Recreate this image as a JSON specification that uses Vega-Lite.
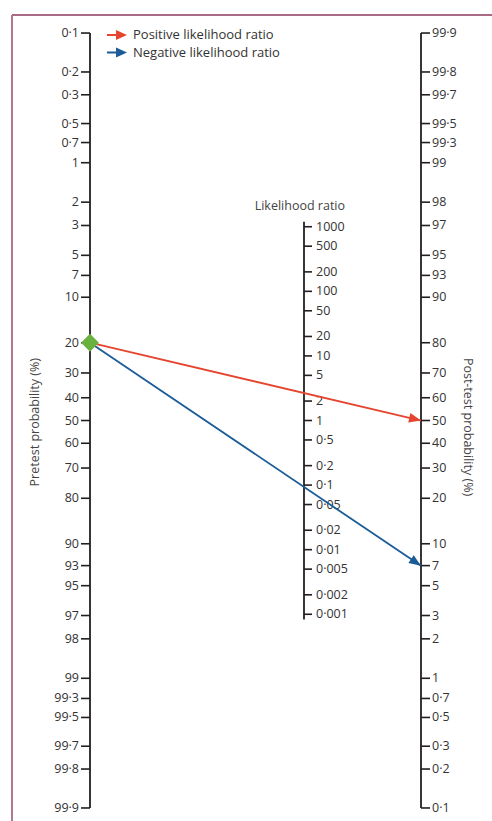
{
  "$schema": "https://vega.github.io/schema/vega-lite/v6.json",
  "autosize": "none",
  "width": 480,
  "height": 806,
  "padding": {"left": 12, "top": 15, "right": 0, "bottom": 0},
  "background": "white",
  "config": {"view": {"stroke": null}},
  "datasets": {
    "pretest": [
      {"label": "0·1", "pct": 0.1, "logodds": -6.9068},
      {"label": "0·2", "pct": 0.2, "logodds": -6.2126},
      {"label": "0·3", "pct": 0.3, "logodds": -5.8061},
      {"label": "0·5", "pct": 0.5, "logodds": -5.2933},
      {"label": "0·7", "pct": 0.7, "logodds": -4.9548},
      {"label": "1", "pct": 1, "logodds": -4.5951},
      {"label": "2", "pct": 2, "logodds": -3.8918},
      {"label": "3", "pct": 3, "logodds": -3.4761},
      {"label": "5", "pct": 5, "logodds": -2.9444},
      {"label": "7", "pct": 7, "logodds": -2.5867},
      {"label": "10", "pct": 10, "logodds": -2.1972},
      {"label": "20", "pct": 20, "logodds": -1.3863},
      {"label": "30", "pct": 30, "logodds": -0.8473},
      {"label": "40", "pct": 40, "logodds": -0.4055},
      {"label": "50", "pct": 50, "logodds": 0},
      {"label": "60", "pct": 60, "logodds": 0.4055},
      {"label": "70", "pct": 70, "logodds": 0.8473},
      {"label": "80", "pct": 80, "logodds": 1.3863},
      {"label": "90", "pct": 90, "logodds": 2.1972},
      {"label": "93", "pct": 93, "logodds": 2.5867},
      {"label": "95", "pct": 95, "logodds": 2.9444},
      {"label": "97", "pct": 97, "logodds": 3.4761},
      {"label": "98", "pct": 98, "logodds": 3.8918},
      {"label": "99", "pct": 99, "logodds": 4.5951},
      {"label": "99·3", "pct": 99.3, "logodds": 4.9548},
      {"label": "99·5", "pct": 99.5, "logodds": 5.2933},
      {"label": "99·7", "pct": 99.7, "logodds": 5.8061},
      {"label": "99·8", "pct": 99.8, "logodds": 6.2126},
      {"label": "99·9", "pct": 99.9, "logodds": 6.9068}
    ],
    "posttest": [
      {"label": "99·9", "pct": 99.9, "logodds": 6.9068},
      {"label": "99·8", "pct": 99.8, "logodds": 6.2126},
      {"label": "99·7", "pct": 99.7, "logodds": 5.8061},
      {"label": "99·5", "pct": 99.5, "logodds": 5.2933},
      {"label": "99·3", "pct": 99.3, "logodds": 4.9548},
      {"label": "99", "pct": 99, "logodds": 4.5951},
      {"label": "98", "pct": 98, "logodds": 3.8918},
      {"label": "97", "pct": 97, "logodds": 3.4761},
      {"label": "95", "pct": 95, "logodds": 2.9444},
      {"label": "93", "pct": 93, "logodds": 2.5867},
      {"label": "90", "pct": 90, "logodds": 2.1972},
      {"label": "80", "pct": 80, "logodds": 1.3863},
      {"label": "70", "pct": 70, "logodds": 0.8473},
      {"label": "60", "pct": 60, "logodds": 0.4055},
      {"label": "50", "pct": 50, "logodds": 0},
      {"label": "40", "pct": 40, "logodds": -0.4055},
      {"label": "30", "pct": 30, "logodds": -0.8473},
      {"label": "20", "pct": 20, "logodds": -1.3863},
      {"label": "10", "pct": 10, "logodds": -2.1972},
      {"label": "7", "pct": 7, "logodds": -2.5867},
      {"label": "5", "pct": 5, "logodds": -2.9444},
      {"label": "3", "pct": 3, "logodds": -3.4761},
      {"label": "2", "pct": 2, "logodds": -3.8918},
      {"label": "1", "pct": 1, "logodds": -4.5951},
      {"label": "0·7", "pct": 0.7, "logodds": -4.9548},
      {"label": "0·5", "pct": 0.5, "logodds": -5.2933},
      {"label": "0·3", "pct": 0.3, "logodds": -5.8061},
      {"label": "0·2", "pct": 0.2, "logodds": -6.2126},
      {"label": "0·1", "pct": 0.1, "logodds": -6.9068}
    ],
    "likelihood": [
      {"label": "1000", "lr": 1000},
      {"label": "500", "lr": 500},
      {"label": "200", "lr": 200},
      {"label": "100", "lr": 100},
      {"label": "50", "lr": 50},
      {"label": "20", "lr": 20},
      {"label": "10", "lr": 10},
      {"label": "5", "lr": 5},
      {"label": "2", "lr": 2},
      {"label": "1", "lr": 1},
      {"label": "0·5", "lr": 0.5},
      {"label": "0·2", "lr": 0.2},
      {"label": "0·1", "lr": 0.1},
      {"label": "0·05", "lr": 0.05},
      {"label": "0·02", "lr": 0.02},
      {"label": "0·01", "lr": 0.01},
      {"label": "0·005", "lr": 0.005},
      {"label": "0·002", "lr": 0.002},
      {"label": "0·001", "lr": 0.001}
    ],
    "tests": [
      {"test": "Positive likelihood ratio", "pretest_pct": 20, "lr": 4, "posttest_pct": 50, "pre_logodds": -1.3863, "post_logodds": 0, "post_logodds_reversed": 0},
      {"test": "Negative likelihood ratio", "pretest_pct": 20, "lr": 0.3, "posttest_pct": 6.98, "pre_logodds": -1.3863, "post_logodds": -2.5903, "post_logodds_reversed": 2.5903}
    ]
  },
  "layer": [
    {
      "data": {"name": "likelihood"},
      "layer": [
        {
          "mark": {"type": "rule", "color": "#231f20", "strokeWidth": 1.8},
          "encoding": {
            "x": {"datum": 0.6465, "type": "quantitative", "scale": {"domain": [-0.23565, 1.2145], "nice": false, "zero": false}, "axis": null},
            "y": {"datum": 1200, "type": "quantitative", "scale": {"type": "log", "domain": [6.297e-7, 1898200], "nice": false}, "axis": null},
            "y2": {"datum": 0.00083}
          },
          "transform": [{"filter": "datum.lr === 1"}]
        },
        {
          "mark": {"type": "rule", "color": "#231f20", "strokeWidth": 1.6},
          "encoding": {
            "x": {"datum": 0.6465, "type": "quantitative", "scale": {"domain": [-0.23565, 1.2145], "nice": false, "zero": false}, "axis": null},
            "x2": {"datum": 0.6707},
            "y": {"field": "lr", "type": "quantitative", "scale": {"type": "log", "domain": [6.297e-7, 1898200], "nice": false}, "axis": null}
          }
        },
        {
          "mark": {"type": "text", "align": "left", "baseline": "middle", "dx": 12, "font": "Open Sans", "fontSize": 12.5, "color": "#333333"},
          "encoding": {
            "x": {"datum": 0.6465, "type": "quantitative", "scale": {"domain": [-0.23565, 1.2145], "nice": false, "zero": false}, "axis": null},
            "y": {"field": "lr", "type": "quantitative", "scale": {"type": "log", "domain": [6.297e-7, 1898200], "nice": false}, "axis": null},
            "text": {"field": "label"}
          }
        },
        {
          "mark": {"type": "text", "align": "center", "baseline": "middle", "font": "Open Sans", "fontSize": 12.5, "color": "#444444", "text": "Likelihood ratio"},
          "encoding": {
            "x": {"datum": 0.634, "type": "quantitative", "scale": {"domain": [-0.23565, 1.2145], "nice": false, "zero": false}, "axis": null},
            "y": {"datum": 2100, "type": "quantitative", "scale": {"type": "log", "domain": [6.297e-7, 1898200], "nice": false}, "axis": null}
          },
          "transform": [{"filter": "datum.lr === 1"}]
        }
      ]
    },
    {
      "data": {"name": "posttest"},
      "layer": [
        {
          "mark": {"type": "rule", "color": "#231f20", "strokeWidth": 1.8},
          "encoding": {
            "x": {"datum": 1, "type": "quantitative", "scale": {"domain": [-0.23565, 1.2145], "nice": false, "zero": false}, "axis": null},
            "y": {"aggregate": "min", "field": "logodds", "type": "quantitative", "scale": {"domain": [-7.139, 7.2282], "nice": false, "zero": false}, "axis": null},
            "y2": {"aggregate": "max", "field": "logodds"}
          }
        },
        {
          "mark": {"type": "rule", "color": "#231f20", "strokeWidth": 1.6},
          "encoding": {
            "x": {"datum": 1, "type": "quantitative", "scale": {"domain": [-0.23565, 1.2145], "nice": false, "zero": false}, "axis": null},
            "x2": {"datum": 1.0272},
            "y": {"field": "logodds", "type": "quantitative", "scale": {"domain": [-7.139, 7.2282], "nice": false, "zero": false}, "axis": null}
          }
        },
        {
          "mark": {"type": "text", "align": "left", "baseline": "middle", "dx": 11, "font": "Open Sans", "fontSize": 12.5, "color": "#333333"},
          "encoding": {
            "x": {"datum": 1, "type": "quantitative", "scale": {"domain": [-0.23565, 1.2145], "nice": false, "zero": false}, "axis": null},
            "y": {"field": "logodds", "type": "quantitative", "scale": {"domain": [-7.139, 7.2282], "nice": false, "zero": false}, "axis": null},
            "text": {"field": "label"}
          }
        },
        {
          "data": {"name": "tests"},
          "mark": {"type": "point", "filled": true, "opacity": 1, "shape": "M0,0L-1,-0.4L-1,0.4Z", "size": 576},
          "encoding": {
            "x": {"datum": 1, "type": "quantitative", "scale": {"domain": [-0.23565, 1.2145], "nice": false, "zero": false}, "axis": null},
            "y": {"field": "post_logodds", "type": "quantitative", "scale": {"domain": [-7.139, 7.2282], "nice": false, "zero": false}, "axis": null},
            "angle": {"condition": {"test": "datum.test === 'Positive likelihood ratio'", "value": 13.22}, "value": 33.98},
            "color": {
              "field": "test", "type": "nominal",
              "scale": {"domain": ["Positive likelihood ratio", "Negative likelihood ratio"], "range": ["#e5452f", "#1b5b97"]},
              "legend": {
                "title": null, "orient": "none", "legendX": 98, "legendY": 13, "padding": 0,
                "symbolType": "M-1.43,-0.13L-0.14,-0.13L-0.14,-0.71L1.43,0L-0.14,0.71L-0.14,0.13L-1.43,0.13Z",
                "symbolSize": 196, "symbolOpacity": 1, "symbolStrokeWidth": 0,
                "labelOffset": 9, "rowPadding": 3.5,
                "labelFont": "Open Sans", "labelFontSize": 13, "labelColor": "#333333", "labelLimit": 300
              }
            }
          }
        }
      ]
    },
    {
      "data": {"name": "pretest"},
      "layer": [
        {
          "mark": {"type": "rule", "color": "#231f20", "strokeWidth": 1.8},
          "encoding": {
            "x": {"datum": 0, "type": "quantitative", "scale": {"domain": [-0.23565, 1.2145], "nice": false, "zero": false}, "axis": null},
            "y": {"aggregate": "min", "field": "logodds", "type": "quantitative", "scale": {"domain": [-7.2282, 7.139], "reverse": true, "nice": false, "zero": false}, "axis": null},
            "y2": {"aggregate": "max", "field": "logodds"}
          }
        },
        {
          "mark": {"type": "rule", "color": "#231f20", "strokeWidth": 1.6},
          "encoding": {
            "x": {"datum": -0.0272, "type": "quantitative", "scale": {"domain": [-0.23565, 1.2145], "nice": false, "zero": false}, "axis": null},
            "x2": {"datum": 0},
            "y": {"field": "logodds", "type": "quantitative", "scale": {"domain": [-7.2282, 7.139], "reverse": true, "nice": false, "zero": false}, "axis": null}
          }
        },
        {
          "mark": {"type": "text", "align": "right", "baseline": "middle", "dx": -11, "font": "Open Sans", "fontSize": 12.5, "color": "#333333"},
          "encoding": {
            "x": {"datum": 0, "type": "quantitative", "scale": {"domain": [-0.23565, 1.2145], "nice": false, "zero": false}, "axis": null},
            "y": {"field": "logodds", "type": "quantitative", "scale": {"domain": [-7.2282, 7.139], "reverse": true, "nice": false, "zero": false}, "axis": null},
            "text": {"field": "label"}
          }
        },
        {
          "mark": {"type": "text", "align": "center", "baseline": "middle", "angle": 270, "font": "Open Sans", "fontSize": 12.5, "color": "#444444", "text": "Pretest probability (%)"},
          "transform": [{"filter": "datum.pct === 50"}],
          "encoding": {
            "x": {"datum": -0.1662, "type": "quantitative", "scale": {"domain": [-0.23565, 1.2145], "nice": false, "zero": false}, "axis": null},
            "y": {"datum": 0.03, "type": "quantitative", "scale": {"domain": [-7.2282, 7.139], "reverse": true, "nice": false, "zero": false}, "axis": null}
          }
        },
        {
          "mark": {"type": "text", "align": "center", "baseline": "middle", "angle": 90, "font": "Open Sans", "fontSize": 12.5, "color": "#444444", "text": "Post-test probability (%)"},
          "transform": [{"filter": "datum.pct === 50"}],
          "encoding": {
            "x": {"datum": 1.142, "type": "quantitative", "scale": {"domain": [-0.23565, 1.2145], "nice": false, "zero": false}, "axis": null},
            "y": {"datum": 0.116, "type": "quantitative", "scale": {"domain": [-7.2282, 7.139], "reverse": true, "nice": false, "zero": false}, "axis": null}
          }
        },
        {
          "mark": {"type": "rule", "color": "#a86a85", "strokeWidth": 1.8},
          "transform": [{"filter": "datum.pct === 50"}],
          "encoding": {
            "x": {"datum": -0.23565, "type": "quantitative", "scale": {"domain": [-0.23565, 1.2145], "nice": false, "zero": false}, "axis": null},
            "x2": {"datum": 1.2145},
            "y": {"datum": -7.2282, "type": "quantitative", "scale": {"domain": [-7.2282, 7.139], "reverse": true, "nice": false, "zero": false}, "axis": null}
          }
        },
        {
          "mark": {"type": "rule", "color": "#a86a85", "strokeWidth": 1.8},
          "transform": [{"filter": "datum.pct === 50"}],
          "encoding": {
            "x": {"datum": -0.23565, "type": "quantitative", "scale": {"domain": [-0.23565, 1.2145], "nice": false, "zero": false}, "axis": null},
            "y": {"datum": -7.2282, "type": "quantitative", "scale": {"domain": [-7.2282, 7.139], "reverse": true, "nice": false, "zero": false}, "axis": null},
            "y2": {"datum": 7.139}
          }
        },
        {
          "data": {"name": "tests"},
          "mark": {"type": "rule", "strokeWidth": 1.8},
          "encoding": {
            "x": {"datum": 0, "type": "quantitative", "scale": {"domain": [-0.23565, 1.2145], "nice": false, "zero": false}, "axis": null},
            "x2": {"datum": 1},
            "y": {"field": "pre_logodds", "type": "quantitative", "scale": {"domain": [-7.2282, 7.139], "reverse": true, "nice": false, "zero": false}, "axis": null},
            "y2": {"field": "post_logodds_reversed"},
            "color": {"condition": {"test": "datum.test === 'Positive likelihood ratio'", "value": "#e5452f"}, "value": "#1b5b97"}
          }
        },
        {
          "data": {"name": "tests"},
          "mark": {"type": "point", "filled": true, "opacity": 1, "shape": "diamond", "size": 300, "color": "#6ab23e"},
          "encoding": {
            "x": {"datum": 0, "type": "quantitative", "scale": {"domain": [-0.23565, 1.2145], "nice": false, "zero": false}, "axis": null},
            "y": {"field": "pre_logodds", "type": "quantitative", "scale": {"domain": [-7.2282, 7.139], "reverse": true, "nice": false, "zero": false}, "axis": null}
          }
        }
      ]
    }
  ],
  "resolve": {"scale": {"y": "independent"}}
}
